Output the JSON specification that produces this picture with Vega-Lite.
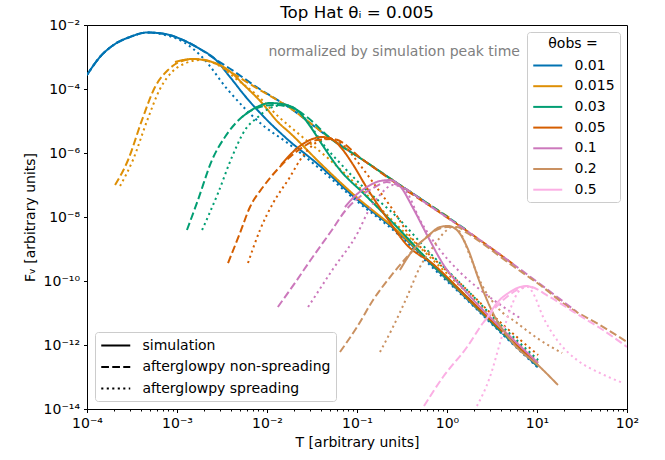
{
"$schema": "https://vega.github.io/schema/vega-lite/v6.json",
"width": 540, "height": 384,
"autosize": {"type": "none"},
"padding": {"left": 87, "top": 25, "right": 38, "bottom": 51},
"background": "white",
"title": {"text": "Top Hat θᵢ = 0.005", "fontSize": 16.7, "fontWeight": "normal", "font": "DejaVu Sans", "offset": -4, "color": "black"},
"encoding": {
 "x": {"field": "T", "type": "quantitative", "scale": {"type": "log", "domain": [0.0001, 100], "nice": false},
  "axis": {"title": "T [arbitrary units]",
   "values": [0.0001,0.0002,0.0003,0.0004,0.0005,0.0006,0.0007,0.0008,0.0009,0.001,0.002,0.003,0.004,0.005,0.006,0.007,0.008,0.009,0.01,0.02,0.03,0.04,0.05,0.06,0.07,0.08,0.09,0.1,0.2,0.3,0.4,0.5,0.6,0.7,0.8,0.9,1,2,3,4,5,6,7,8,9,10,20,30,40,50,60,70,80,90,100],
   "labelExpr": "abs(log(datum.value)/LN10 - round(log(datum.value)/LN10)) < 0.01 ? '10' + replace(replace(replace(replace(replace(replace(replace(replace(replace(replace(replace('' + round(log(datum.value)/LN10), '-', '⁻'), '0', '⁰'), '1', '¹'), '2', '²'), '3', '³'), '4', '⁴'), '5', '⁵'), '6', '⁶'), '7', '⁷'), '8', '⁸'), '9', '⁹') : ''",
   "tickSize": {"condition": {"test": "abs(log(datum.value)/LN10 - round(log(datum.value)/LN10)) < 0.01", "value": 3.5}, "value": 2},
   "labelPadding": 4, "titlePadding": 5, "labelOverlap": false, "labelFlush": false, "labelBound": false}},
 "y": {"field": "F", "type": "quantitative", "scale": {"type": "log", "domain": [1e-14, 0.01], "nice": false},
  "axis": {"title": "Fᵥ [arbitrary units]",
   "values": [1e-14,1e-12,1e-10,1e-8,1e-6,1e-4,1e-2],
   "labelExpr": "'10' + replace(replace(replace(replace(replace(replace(replace(replace(replace(replace(replace('' + round(log(datum.value)/LN10), '-', '⁻'), '0', '⁰'), '1', '¹'), '2', '²'), '3', '³'), '4', '⁴'), '5', '⁵'), '6', '⁶'), '7', '⁷'), '8', '⁸'), '9', '⁹')",
   "tickSize": 3.5, "labelPadding": 4, "titlePadding": 6, "labelOverlap": false, "labelFlush": false, "labelBound": false}}
},
"layer": [
 {"data": {"values": [
{"theta":"0.01","model":"simulation","T":1e-4,"F":2.74e-4},
{"theta":"0.01","model":"simulation","T":1.39e-4,"F":1.00e-3},
{"theta":"0.01","model":"simulation","T":2.05e-4,"F":2.55e-3},
{"theta":"0.01","model":"simulation","T":3.00e-4,"F":4.22e-3},
{"theta":"0.01","model":"simulation","T":4.64e-4,"F":5.83e-3},
{"theta":"0.01","model":"simulation","T":7.36e-4,"F":5.24e-3},
{"theta":"0.01","model":"simulation","T":1.23e-3,"F":3.16e-3},
{"theta":"0.01","model":"simulation","T":1.80e-3,"F":1.78e-3},
{"theta":"0.01","model":"simulation","T":2.64e-3,"F":8.66e-4},
{"theta":"0.01","model":"simulation","T":3.88e-3,"F":2.37e-4},
{"theta":"0.01","model":"simulation","T":5.70e-3,"F":6.04e-5},
{"theta":"0.01","model":"simulation","T":9.50e-3,"F":1.24e-5},
{"theta":"0.01","model":"simulation","T":1.58e-2,"F":3.16e-6},
{"theta":"0.01","model":"simulation","T":3.88e-2,"F":3.93e-7},
{"theta":"0.01","model":"simulation","T":9.03e-2,"F":4.53e-8},
{"theta":"0.01","model":"simulation","T":0.300,"F":2.94e-9},
{"theta":"0.01","model":"simulation","T":0.698,"F":2.94e-10},
{"theta":"0.01","model":"simulation","T":1.67,"F":2.74e-11},
{"theta":"0.01","model":"simulation","T":3.88,"F":2.74e-12},
{"theta":"0.01","model":"simulation","T":10.3,"F":2.05e-13},
{"theta":"0.01","model":"afterglowpy non-spreading","T":1e-4,"F":2.74e-4},
{"theta":"0.01","model":"afterglowpy non-spreading","T":1.39e-4,"F":1.00e-3},
{"theta":"0.01","model":"afterglowpy non-spreading","T":2.05e-4,"F":2.55e-3},
{"theta":"0.01","model":"afterglowpy non-spreading","T":3.00e-4,"F":4.22e-3},
{"theta":"0.01","model":"afterglowpy non-spreading","T":4.64e-4,"F":5.83e-3},
{"theta":"0.01","model":"afterglowpy non-spreading","T":7.36e-4,"F":5.24e-3},
{"theta":"0.01","model":"afterglowpy non-spreading","T":1.23e-3,"F":3.16e-3},
{"theta":"0.01","model":"afterglowpy non-spreading","T":1.80e-3,"F":1.78e-3},
{"theta":"0.01","model":"afterglowpy non-spreading","T":2.64e-3,"F":8.66e-4},
{"theta":"0.01","model":"afterglowpy non-spreading","T":4.41e-3,"F":3.40e-4},
{"theta":"0.01","model":"afterglowpy non-spreading","T":7.36e-3,"F":1.24e-4},
{"theta":"0.01","model":"afterglowpy non-spreading","T":1.80e-2,"F":2.55e-5},
{"theta":"0.01","model":"afterglowpy non-spreading","T":5.01e-2,"F":2.94e-6},
{"theta":"0.01","model":"afterglowpy non-spreading","T":0.117,"F":6.04e-7},
{"theta":"0.01","model":"afterglowpy non-spreading","T":0.278,"F":1.15e-7},
{"theta":"0.01","model":"afterglowpy non-spreading","T":0.647,"F":2.37e-8},
{"theta":"0.01","model":"afterglowpy spreading","T":1e-4,"F":2.74e-4},
{"theta":"0.01","model":"afterglowpy spreading","T":1.39e-4,"F":1.00e-3},
{"theta":"0.01","model":"afterglowpy spreading","T":2.05e-4,"F":2.55e-3},
{"theta":"0.01","model":"afterglowpy spreading","T":3.00e-4,"F":4.22e-3},
{"theta":"0.01","model":"afterglowpy spreading","T":4.64e-4,"F":5.83e-3},
{"theta":"0.01","model":"afterglowpy spreading","T":7.36e-4,"F":4.87e-3},
{"theta":"0.01","model":"afterglowpy spreading","T":1.23e-3,"F":2.74e-3},
{"theta":"0.01","model":"afterglowpy spreading","T":1.90e-3,"F":1.00e-3},
{"theta":"0.01","model":"afterglowpy spreading","T":3.69e-3,"F":9.31e-5},
{"theta":"0.01","model":"afterglowpy spreading","T":9.50e-3,"F":6.49e-6},
{"theta":"0.01","model":"afterglowpy spreading","T":1.58e-2,"F":2.37e-6},
{"theta":"0.01","model":"afterglowpy spreading","T":3.88e-2,"F":3.16e-7},
{"theta":"0.01","model":"afterglowpy spreading","T":9.03e-2,"F":3.93e-8},
{"theta":"0.01","model":"afterglowpy spreading","T":0.300,"F":2.55e-9},
{"theta":"0.01","model":"afterglowpy spreading","T":0.698,"F":2.55e-10},
{"theta":"0.01","model":"afterglowpy spreading","T":1.67,"F":2.55e-11},
{"theta":"0.01","model":"afterglowpy spreading","T":3.88,"F":2.55e-12},
{"theta":"0.01","model":"afterglowpy spreading","T":10.3,"F":1.91e-13},
{"theta":"0.015","model":"simulation","T":9.50e-4,"F":6.98e-4},
{"theta":"0.015","model":"simulation","T":1.47e-3,"F":8.66e-4},
{"theta":"0.015","model":"simulation","T":2.45e-3,"F":6.98e-4},
{"theta":"0.015","model":"simulation","T":3.69e-3,"F":3.93e-4},
{"theta":"0.015","model":"simulation","T":5.70e-3,"F":1.24e-4},
{"theta":"0.015","model":"simulation","T":8.80e-3,"F":3.65e-5},
{"theta":"0.015","model":"simulation","T":1.32e-2,"F":9.31e-6},
{"theta":"0.015","model":"simulation","T":1.80e-2,"F":4.22e-6},
{"theta":"0.015","model":"simulation","T":3.88e-2,"F":4.87e-7},
{"theta":"0.015","model":"simulation","T":9.03e-2,"F":5.24e-8},
{"theta":"0.015","model":"simulation","T":0.300,"F":3.16e-9},
{"theta":"0.015","model":"simulation","T":0.698,"F":3.16e-10},
{"theta":"0.015","model":"simulation","T":1.67,"F":2.94e-11},
{"theta":"0.015","model":"simulation","T":3.88,"F":2.94e-12},
{"theta":"0.015","model":"simulation","T":10.3,"F":2.21e-13},
{"theta":"0.015","model":"afterglowpy non-spreading","T":2.05e-4,"F":1.00e-7},
{"theta":"0.015","model":"afterglowpy non-spreading","T":2.86e-4,"F":6.04e-7},
{"theta":"0.015","model":"afterglowpy non-spreading","T":4.08e-4,"F":1.07e-5},
{"theta":"0.015","model":"afterglowpy non-spreading","T":5.70e-4,"F":1.15e-4},
{"theta":"0.015","model":"afterglowpy non-spreading","T":7.94e-4,"F":3.93e-4},
{"theta":"0.015","model":"afterglowpy non-spreading","T":1.14e-3,"F":7.50e-4},
{"theta":"0.015","model":"afterglowpy non-spreading","T":1.58e-3,"F":8.66e-4},
{"theta":"0.015","model":"afterglowpy non-spreading","T":2.45e-3,"F":6.98e-4},
{"theta":"0.015","model":"afterglowpy non-spreading","T":4.08e-3,"F":3.16e-4},
{"theta":"0.015","model":"afterglowpy non-spreading","T":7.36e-3,"F":1.15e-4},
{"theta":"0.015","model":"afterglowpy non-spreading","T":1.80e-2,"F":2.55e-5},
{"theta":"0.015","model":"afterglowpy non-spreading","T":5.01e-2,"F":2.94e-6},
{"theta":"0.015","model":"afterglowpy non-spreading","T":0.117,"F":6.04e-7},
{"theta":"0.015","model":"afterglowpy non-spreading","T":0.278,"F":1.15e-7},
{"theta":"0.015","model":"afterglowpy non-spreading","T":0.647,"F":2.37e-8},
{"theta":"0.015","model":"afterglowpy non-spreading","T":1.08,"F":9.31e-9},
{"theta":"0.015","model":"afterglowpy spreading","T":2.33e-4,"F":9.31e-8},
{"theta":"0.015","model":"afterglowpy spreading","T":3.24e-4,"F":6.04e-7},
{"theta":"0.015","model":"afterglowpy spreading","T":4.64e-4,"F":1.00e-5},
{"theta":"0.015","model":"afterglowpy spreading","T":6.47e-4,"F":1.00e-4},
{"theta":"0.015","model":"afterglowpy spreading","T":9.03e-4,"F":3.65e-4},
{"theta":"0.015","model":"afterglowpy spreading","T":1.26e-3,"F":6.49e-4},
{"theta":"0.015","model":"afterglowpy spreading","T":1.80e-3,"F":8.06e-4},
{"theta":"0.015","model":"afterglowpy spreading","T":2.86e-3,"F":5.62e-4},
{"theta":"0.015","model":"afterglowpy spreading","T":4.41e-3,"F":2.21e-4},
{"theta":"0.015","model":"afterglowpy spreading","T":7.94e-3,"F":6.04e-5},
{"theta":"0.015","model":"afterglowpy spreading","T":1.32e-2,"F":1.43e-5},
{"theta":"0.015","model":"afterglowpy spreading","T":2.33e-2,"F":3.65e-6},
{"theta":"0.015","model":"afterglowpy spreading","T":5.01e-2,"F":6.04e-7},
{"theta":"0.015","model":"afterglowpy spreading","T":0.108,"F":8.06e-8},
{"theta":"0.015","model":"afterglowpy spreading","T":0.300,"F":4.53e-9},
{"theta":"0.015","model":"afterglowpy spreading","T":0.698,"F":4.53e-10},
{"theta":"0.015","model":"afterglowpy spreading","T":1.67,"F":4.22e-11},
{"theta":"0.015","model":"afterglowpy spreading","T":3.88,"F":3.93e-12},
{"theta":"0.015","model":"afterglowpy spreading","T":10.3,"F":2.94e-13},
{"theta":"0.03","model":"simulation","T":5.27e-3,"F":1.33e-5},
{"theta":"0.03","model":"simulation","T":7.36e-3,"F":2.55e-5},
{"theta":"0.03","model":"simulation","T":1.08e-2,"F":3.65e-5},
{"theta":"0.03","model":"simulation","T":1.47e-2,"F":3.40e-5},
{"theta":"0.03","model":"simulation","T":2.15e-2,"F":2.21e-5},
{"theta":"0.03","model":"simulation","T":3.00e-2,"F":6.98e-6},
{"theta":"0.03","model":"simulation","T":4.19e-2,"F":1.66e-6},
{"theta":"0.03","model":"simulation","T":6.47e-2,"F":2.94e-7},
{"theta":"0.03","model":"simulation","T":0.117,"F":5.62e-8},
{"theta":"0.03","model":"simulation","T":0.278,"F":4.87e-9},
{"theta":"0.03","model":"simulation","T":0.647,"F":3.93e-10},
{"theta":"0.03","model":"simulation","T":1.67,"F":3.16e-11},
{"theta":"0.03","model":"simulation","T":3.88,"F":2.94e-12},
{"theta":"0.03","model":"simulation","T":10.3,"F":2.21e-13},
{"theta":"0.03","model":"afterglowpy non-spreading","T":1.29e-3,"F":3.93e-9},
{"theta":"0.03","model":"afterglowpy non-spreading","T":1.71e-3,"F":3.40e-8},
{"theta":"0.03","model":"afterglowpy non-spreading","T":2.45e-3,"F":6.04e-7},
{"theta":"0.03","model":"afterglowpy non-spreading","T":3.41e-3,"F":3.16e-6},
{"theta":"0.03","model":"afterglowpy non-spreading","T":5.27e-3,"F":1.33e-5},
{"theta":"0.03","model":"afterglowpy non-spreading","T":7.74e-3,"F":2.55e-5},
{"theta":"0.03","model":"afterglowpy non-spreading","T":1.17e-2,"F":3.16e-5},
{"theta":"0.03","model":"afterglowpy non-spreading","T":1.80e-2,"F":2.74e-5},
{"theta":"0.03","model":"afterglowpy non-spreading","T":2.78e-2,"F":1.33e-5},
{"theta":"0.03","model":"afterglowpy non-spreading","T":5.01e-2,"F":2.94e-6},
{"theta":"0.03","model":"afterglowpy non-spreading","T":0.117,"F":6.04e-7},
{"theta":"0.03","model":"afterglowpy non-spreading","T":0.278,"F":1.15e-7},
{"theta":"0.03","model":"afterglowpy non-spreading","T":0.647,"F":2.37e-8},
{"theta":"0.03","model":"afterglowpy non-spreading","T":1.71,"F":3.65e-9},
{"theta":"0.03","model":"afterglowpy spreading","T":1.90e-3,"F":3.93e-9},
{"theta":"0.03","model":"afterglowpy spreading","T":2.86e-3,"F":5.62e-8},
{"theta":"0.03","model":"afterglowpy spreading","T":4.08e-3,"F":7.50e-7},
{"theta":"0.03","model":"afterglowpy spreading","T":5.70e-3,"F":5.24e-6},
{"theta":"0.03","model":"afterglowpy spreading","T":7.94e-3,"F":1.33e-5},
{"theta":"0.03","model":"afterglowpy spreading","T":1.08e-2,"F":2.55e-5},
{"theta":"0.03","model":"afterglowpy spreading","T":1.51e-2,"F":3.16e-5},
{"theta":"0.03","model":"afterglowpy spreading","T":2.15e-2,"F":2.21e-5},
{"theta":"0.03","model":"afterglowpy spreading","T":3.00e-2,"F":7.50e-6},
{"theta":"0.03","model":"afterglowpy spreading","T":4.19e-2,"F":1.91e-6},
{"theta":"0.03","model":"afterglowpy spreading","T":6.47e-2,"F":4.87e-7},
{"theta":"0.03","model":"afterglowpy spreading","T":0.117,"F":8.66e-8},
{"theta":"0.03","model":"afterglowpy spreading","T":0.278,"F":1.00e-8},
{"theta":"0.03","model":"afterglowpy spreading","T":0.647,"F":7.50e-10},
{"theta":"0.03","model":"afterglowpy spreading","T":1.67,"F":5.24e-11},
{"theta":"0.03","model":"afterglowpy spreading","T":3.88,"F":4.53e-12},
{"theta":"0.03","model":"afterglowpy spreading","T":10.3,"F":3.40e-13},
{"theta":"0.05","model":"simulation","T":1.43e-2,"F":4.22e-7},
{"theta":"0.05","model":"simulation","T":2.05e-2,"F":1.24e-6},
{"theta":"0.05","model":"simulation","T":3.00e-2,"F":2.55e-6},
{"theta":"0.05","model":"simulation","T":4.08e-2,"F":3.16e-6},
{"theta":"0.05","model":"simulation","T":5.41e-2,"F":2.55e-6},
{"theta":"0.05","model":"simulation","T":6.98e-2,"F":1.24e-6},
{"theta":"0.05","model":"simulation","T":8.80e-2,"F":4.87e-7},
{"theta":"0.05","model":"simulation","T":0.129,"F":8.06e-8},
{"theta":"0.05","model":"simulation","T":0.215,"F":9.31e-9},
{"theta":"0.05","model":"simulation","T":0.359,"F":1.33e-9},
{"theta":"0.05","model":"simulation","T":0.698,"F":3.40e-10},
{"theta":"0.05","model":"simulation","T":1.67,"F":3.16e-11},
{"theta":"0.05","model":"simulation","T":3.88,"F":3.16e-12},
{"theta":"0.05","model":"simulation","T":10.3,"F":2.37e-13},
{"theta":"0.05","model":"afterglowpy non-spreading","T":3.69e-3,"F":3.65e-10},
{"theta":"0.05","model":"afterglowpy non-spreading","T":5.01e-3,"F":3.16e-9},
{"theta":"0.05","model":"afterglowpy non-spreading","T":6.47e-3,"F":2.05e-8},
{"theta":"0.05","model":"afterglowpy non-spreading","T":9.03e-3,"F":8.66e-8},
{"theta":"0.05","model":"afterglowpy non-spreading","T":1.29e-2,"F":2.94e-7},
{"theta":"0.05","model":"afterglowpy non-spreading","T":1.80e-2,"F":7.50e-7},
{"theta":"0.05","model":"afterglowpy non-spreading","T":2.51e-2,"F":1.54e-6},
{"theta":"0.05","model":"afterglowpy non-spreading","T":3.59e-2,"F":2.55e-6},
{"theta":"0.05","model":"afterglowpy non-spreading","T":5.41e-2,"F":2.74e-6},
{"theta":"0.05","model":"afterglowpy non-spreading","T":0.117,"F":6.04e-7},
{"theta":"0.05","model":"afterglowpy non-spreading","T":0.278,"F":1.07e-7},
{"theta":"0.05","model":"afterglowpy non-spreading","T":0.647,"F":2.21e-8},
{"theta":"0.05","model":"afterglowpy non-spreading","T":1.67,"F":3.65e-9},
{"theta":"0.05","model":"afterglowpy non-spreading","T":5.41,"F":3.40e-10},
{"theta":"0.05","model":"afterglowpy spreading","T":6.15e-3,"F":3.65e-10},
{"theta":"0.05","model":"afterglowpy spreading","T":8.36e-3,"F":3.93e-9},
{"theta":"0.05","model":"afterglowpy spreading","T":1.17e-2,"F":2.74e-8},
{"theta":"0.05","model":"afterglowpy spreading","T":1.80e-2,"F":1.78e-7},
{"theta":"0.05","model":"afterglowpy spreading","T":2.33e-2,"F":6.04e-7},
{"theta":"0.05","model":"afterglowpy spreading","T":3.24e-2,"F":1.78e-6},
{"theta":"0.05","model":"afterglowpy spreading","T":5.01e-2,"F":2.94e-6},
{"theta":"0.05","model":"afterglowpy spreading","T":7.36e-2,"F":1.54e-6},
{"theta":"0.05","model":"afterglowpy spreading","T":0.108,"F":4.22e-7},
{"theta":"0.05","model":"afterglowpy spreading","T":0.158,"F":1.00e-7},
{"theta":"0.05","model":"afterglowpy spreading","T":0.251,"F":1.66e-8},
{"theta":"0.05","model":"afterglowpy spreading","T":0.388,"F":2.55e-9},
{"theta":"0.05","model":"afterglowpy spreading","T":0.698,"F":5.24e-10},
{"theta":"0.05","model":"afterglowpy spreading","T":1.67,"F":5.24e-11},
{"theta":"0.05","model":"afterglowpy spreading","T":3.88,"F":5.24e-12},
{"theta":"0.05","model":"afterglowpy spreading","T":10.3,"F":4.87e-13},
{"theta":"0.1","model":"simulation","T":7.36e-2,"F":2.05e-8},
{"theta":"0.1","model":"simulation","T":9.50e-2,"F":4.53e-8},
{"theta":"0.1","model":"simulation","T":0.129,"F":8.66e-8},
{"theta":"0.1","model":"simulation","T":0.180,"F":1.33e-7},
{"theta":"0.1","model":"simulation","T":0.233,"F":1.43e-7},
{"theta":"0.1","model":"simulation","T":0.300,"F":9.31e-8},
{"theta":"0.1","model":"simulation","T":0.419,"F":1.91e-8},
{"theta":"0.1","model":"simulation","T":0.600,"F":2.74e-9},
{"theta":"0.1","model":"simulation","T":0.903,"F":3.40e-10},
{"theta":"0.1","model":"simulation","T":1.67,"F":4.22e-11},
{"theta":"0.1","model":"simulation","T":3.24,"F":6.04e-12},
{"theta":"0.1","model":"simulation","T":6.00,"F":1.15e-12},
{"theta":"0.1","model":"simulation","T":10.3,"F":2.74e-13},
{"theta":"0.1","model":"afterglowpy non-spreading","T":1.32e-2,"F":1.54e-11},
{"theta":"0.1","model":"afterglowpy non-spreading","T":2.15e-2,"F":1.07e-10},
{"theta":"0.1","model":"afterglowpy non-spreading","T":3.00e-2,"F":4.22e-10},
{"theta":"0.1","model":"afterglowpy non-spreading","T":5.27e-2,"F":3.93e-9},
{"theta":"0.1","model":"afterglowpy non-spreading","T":7.36e-2,"F":1.54e-8},
{"theta":"0.1","model":"afterglowpy non-spreading","T":0.100,"F":3.65e-8},
{"theta":"0.1","model":"afterglowpy non-spreading","T":0.151,"F":8.06e-8},
{"theta":"0.1","model":"afterglowpy non-spreading","T":0.215,"F":1.24e-7},
{"theta":"0.1","model":"afterglowpy non-spreading","T":0.300,"F":9.31e-8},
{"theta":"0.1","model":"afterglowpy non-spreading","T":0.647,"F":2.21e-8},
{"theta":"0.1","model":"afterglowpy non-spreading","T":1.67,"F":3.65e-9},
{"theta":"0.1","model":"afterglowpy non-spreading","T":5.41,"F":3.40e-10},
{"theta":"0.1","model":"afterglowpy non-spreading","T":10.8,"F":8.06e-11},
{"theta":"0.1","model":"afterglowpy non-spreading","T":27.8,"F":1.07e-11},
{"theta":"0.1","model":"afterglowpy spreading","T":2.86e-2,"F":1.54e-11},
{"theta":"0.1","model":"afterglowpy spreading","T":5.41e-2,"F":2.37e-10},
{"theta":"0.1","model":"afterglowpy spreading","T":0.103,"F":3.40e-9},
{"theta":"0.1","model":"afterglowpy spreading","T":0.132,"F":1.43e-8},
{"theta":"0.1","model":"afterglowpy spreading","T":0.180,"F":4.87e-8},
{"theta":"0.1","model":"afterglowpy spreading","T":0.251,"F":1.00e-7},
{"theta":"0.1","model":"afterglowpy spreading","T":0.341,"F":6.98e-8},
{"theta":"0.1","model":"afterglowpy spreading","T":0.501,"F":8.06e-9},
{"theta":"0.1","model":"afterglowpy spreading","T":0.836,"F":9.31e-10},
{"theta":"0.1","model":"afterglowpy spreading","T":1.39,"F":1.91e-10},
{"theta":"0.1","model":"afterglowpy spreading","T":2.51,"F":4.53e-11},
{"theta":"0.1","model":"afterglowpy spreading","T":4.41,"F":1.43e-11},
{"theta":"0.1","model":"afterglowpy spreading","T":6.47,"F":6.98e-12},
{"theta":"0.2","model":"simulation","T":0.300,"F":2.21e-10},
{"theta":"0.2","model":"simulation","T":0.419,"F":9.31e-10},
{"theta":"0.2","model":"simulation","T":0.600,"F":2.37e-9},
{"theta":"0.2","model":"simulation","T":0.836,"F":4.87e-9},
{"theta":"0.2","model":"simulation","T":1.03,"F":5.24e-9},
{"theta":"0.2","model":"simulation","T":1.32,"F":3.65e-9},
{"theta":"0.2","model":"simulation","T":1.67,"F":1.15e-9},
{"theta":"0.2","model":"simulation","T":2.33,"F":8.66e-11},
{"theta":"0.2","model":"simulation","T":3.24,"F":1.00e-11},
{"theta":"0.2","model":"simulation","T":5.41,"F":1.15e-12},
{"theta":"0.2","model":"simulation","T":10.8,"F":2.05e-13},
{"theta":"0.2","model":"simulation","T":17.1,"F":5.62e-14},
{"theta":"0.2","model":"afterglowpy non-spreading","T":6.47e-2,"F":6.04e-13},
{"theta":"0.2","model":"afterglowpy non-spreading","T":0.100,"F":3.65e-12},
{"theta":"0.2","model":"afterglowpy non-spreading","T":0.151,"F":2.55e-11},
{"theta":"0.2","model":"afterglowpy non-spreading","T":0.233,"F":1.33e-10},
{"theta":"0.2","model":"afterglowpy non-spreading","T":0.359,"F":5.62e-10},
{"theta":"0.2","model":"afterglowpy non-spreading","T":0.501,"F":1.54e-9},
{"theta":"0.2","model":"afterglowpy non-spreading","T":0.698,"F":3.40e-9},
{"theta":"0.2","model":"afterglowpy non-spreading","T":1.00,"F":4.87e-9},
{"theta":"0.2","model":"afterglowpy non-spreading","T":1.29,"F":4.87e-9},
{"theta":"0.2","model":"afterglowpy non-spreading","T":1.67,"F":3.16e-9},
{"theta":"0.2","model":"afterglowpy non-spreading","T":5.41,"F":2.94e-10},
{"theta":"0.2","model":"afterglowpy non-spreading","T":10.8,"F":7.50e-11},
{"theta":"0.2","model":"afterglowpy non-spreading","T":21.5,"F":1.66e-11},
{"theta":"0.2","model":"afterglowpy non-spreading","T":50.1,"F":4.22e-12},
{"theta":"0.2","model":"afterglowpy non-spreading","T":100,"F":1.24e-12},
{"theta":"0.2","model":"afterglowpy spreading","T":0.180,"F":6.04e-13},
{"theta":"0.2","model":"afterglowpy spreading","T":0.251,"F":3.65e-12},
{"theta":"0.2","model":"afterglowpy spreading","T":0.359,"F":3.16e-11},
{"theta":"0.2","model":"afterglowpy spreading","T":0.501,"F":2.74e-10},
{"theta":"0.2","model":"afterglowpy spreading","T":0.698,"F":1.15e-9},
{"theta":"0.2","model":"afterglowpy spreading","T":1.00,"F":3.93e-9},
{"theta":"0.2","model":"afterglowpy spreading","T":1.14,"F":4.87e-9},
{"theta":"0.2","model":"afterglowpy spreading","T":1.39,"F":3.40e-9},
{"theta":"0.2","model":"afterglowpy spreading","T":1.80,"F":6.04e-10},
{"theta":"0.2","model":"afterglowpy spreading","T":2.45,"F":7.50e-11},
{"theta":"0.2","model":"afterglowpy spreading","T":3.59,"F":1.54e-11},
{"theta":"0.2","model":"afterglowpy spreading","T":6.00,"F":4.87e-12},
{"theta":"0.2","model":"afterglowpy spreading","T":10.8,"F":1.43e-12},
{"theta":"0.2","model":"afterglowpy spreading","T":19.0,"F":5.62e-13},
{"theta":"0.5","model":"simulation","T":2.71,"F":6.04e-12},
{"theta":"0.5","model":"simulation","T":3.59,"F":2.05e-11},
{"theta":"0.5","model":"simulation","T":5.01,"F":4.53e-11},
{"theta":"0.5","model":"simulation","T":6.47,"F":6.49e-11},
{"theta":"0.5","model":"simulation","T":7.74,"F":6.98e-11},
{"theta":"0.5","model":"simulation","T":9.03,"F":6.04e-11},
{"theta":"0.5","model":"afterglowpy non-spreading","T":0.555,"F":1.24e-14},
{"theta":"0.5","model":"afterglowpy non-spreading","T":0.903,"F":1.00e-13},
{"theta":"0.5","model":"afterglowpy non-spreading","T":1.67,"F":8.66e-13},
{"theta":"0.5","model":"afterglowpy non-spreading","T":2.51,"F":4.87e-12},
{"theta":"0.5","model":"afterglowpy non-spreading","T":3.88,"F":2.05e-11},
{"theta":"0.5","model":"afterglowpy non-spreading","T":6.00,"F":5.24e-11},
{"theta":"0.5","model":"afterglowpy non-spreading","T":7.74,"F":6.98e-11},
{"theta":"0.5","model":"afterglowpy non-spreading","T":13.9,"F":3.16e-11},
{"theta":"0.5","model":"afterglowpy non-spreading","T":27.8,"F":9.31e-12},
{"theta":"0.5","model":"afterglowpy non-spreading","T":50.1,"F":3.40e-12},
{"theta":"0.5","model":"afterglowpy non-spreading","T":100,"F":8.66e-13},
{"theta":"0.5","model":"afterglowpy spreading","T":2.15,"F":1.24e-14},
{"theta":"0.5","model":"afterglowpy spreading","T":3.00,"F":1.00e-13},
{"theta":"0.5","model":"afterglowpy spreading","T":3.88,"F":1.15e-12},
{"theta":"0.5","model":"afterglowpy spreading","T":5.01,"F":1.24e-11},
{"theta":"0.5","model":"afterglowpy spreading","T":6.47,"F":5.24e-11},
{"theta":"0.5","model":"afterglowpy spreading","T":7.94,"F":6.49e-11},
{"theta":"0.5","model":"afterglowpy spreading","T":9.03,"F":4.22e-11},
{"theta":"0.5","model":"afterglowpy spreading","T":11.7,"F":7.50e-12},
{"theta":"0.5","model":"afterglowpy spreading","T":16.7,"F":1.43e-12},
{"theta":"0.5","model":"afterglowpy spreading","T":27.8,"F":3.40e-13},
{"theta":"0.5","model":"afterglowpy spreading","T":50.1,"F":1.33e-13},
{"theta":"0.5","model":"afterglowpy spreading","T":90.3,"F":6.49e-14}
 ]},
 "mark": {"type": "line", "strokeWidth": 2, "clip": true, "interpolate": "monotone"},
 "encoding": {
  "color": {"field": "theta", "type": "nominal",
   "scale": {"domain": ["0.01","0.015","0.03","0.05","0.1","0.2","0.5"], "range": ["#0173b2","#de8f05","#029e73","#d55e00","#cc78bc","#ca9161","#fbafe4"]},
   "legend": {"title": "θobs =", "orient": "top-right", "offset": 7, "titleAnchor": "middle", "titlePadding": 6, "rowPadding": 4.7}},
  "strokeDash": {"field": "model", "type": "nominal",
   "scale": {"domain": ["simulation","afterglowpy non-spreading","afterglowpy spreading"], "range": [[1,0],[7.7,3.3],[2.1,3.4]]},
   "legend": {"title": null, "orient": "bottom-left", "offset": 8, "symbolStrokeColor": "black", "rowPadding": 5.5, "labelLimit": 400}}
 }},
 {"data": {"values": [{"T": 6.47, "F": 0.00143, "label": "normalized by simulation peak time"}]},
  "mark": {"type": "text", "align": "right", "baseline": "middle", "fontSize": 14, "font": "DejaVu Sans", "color": "#808080"},
  "encoding": {"text": {"field": "label", "type": "nominal"}}}
],
"config": {
 "font": "DejaVu Sans",
 "view": {"stroke": "black", "strokeWidth": 1},
 "axis": {"labelFont": "DejaVu Sans", "titleFont": "DejaVu Sans", "labelFontSize": 14, "titleFontSize": 14, "titleFontWeight": "normal", "labelColor": "black", "titleColor": "black", "domainColor": "black", "tickColor": "black", "domainWidth": 1, "tickWidth": 1, "grid": false},
 "legend": {"labelFont": "DejaVu Sans", "titleFont": "DejaVu Sans", "labelFontSize": 14, "titleFontSize": 14, "titleFontWeight": "normal", "labelColor": "black", "titleColor": "black", "fillColor": "rgba(255,255,255,0.8)", "strokeColor": "#cccccc", "cornerRadius": 3, "padding": 5, "symbolType": "M-2,0H2", "symbolSize": 210.25, "symbolOffset": 7.25, "symbolStrokeWidth": 2, "labelOffset": 18.25, "labelLimit": 400}
}
}
